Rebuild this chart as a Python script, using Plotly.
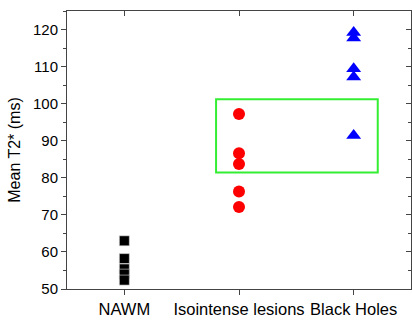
import plotly.graph_objects as go

categories = ["NAWM", "Isointense lesions", "Black Holes"]
nawm_values = [63.0, 58.2, 55.4, 54.0, 52.4]
iso_values = [97.2, 86.6, 83.7, 76.3, 72.1]
bh_values = [119.2, 117.7, 109.4, 107.2, 91.4]
y_ticks = [50, 60, 70, 80, 90, 100, 110, 120]
box_x = [0.80, 2.21]
box_y = [81.4, 101.2]

fig = go.Figure()
fig.add_trace(go.Scatter(x=[categories[0]] * len(nawm_values), y=nawm_values, mode="markers",
                         marker=dict(symbol="square", size=10, color="black",
                                     line=dict(color="#dddddd", width=0.6)), showlegend=False))
fig.add_trace(go.Scatter(x=[categories[1]] * len(iso_values), y=iso_values, mode="markers",
                         marker=dict(symbol="circle", size=12, color="#ff0000", line=dict(width=0)),
                         showlegend=False))
fig.add_trace(go.Scatter(x=[categories[2]] * len(bh_values), y=bh_values, mode="markers",
                         marker=dict(symbol="triangle-up", size=13, color="#0000ff", line=dict(width=0)),
                         showlegend=False))
# invisible trace to anchor mirror axes
fig.add_trace(go.Scatter(x=[categories[0]], y=[y_ticks[0]], xaxis="x2", yaxis="y2", mode="markers",
                         marker=dict(opacity=0), showlegend=False, hoverinfo="skip"))

fig.add_shape(type="rect", xref="x", yref="y", x0=box_x[0], x1=box_x[1], y0=box_y[0], y1=box_y[1],
              line=dict(color="#33ee33", width=2), fillcolor="rgba(0,0,0,0)")

axis_col = "#444444"
font_family = "Liberation Sans, Arial, sans-serif"

fig.update_layout(
    width=412, height=320,
    margin=dict(l=67, r=1, t=11, b=31, autoexpand=False),
    paper_bgcolor="white", plot_bgcolor="white",
    font=dict(family=font_family, color="black"),
    xaxis=dict(type="category", categoryorder="array", categoryarray=categories,
               range=[-0.5, 2.5], showgrid=False, zeroline=False, automargin=False,
               showline=True, linecolor=axis_col, linewidth=1,
               ticks="outside", ticklen=5, tickcolor=axis_col,
               tickfont=dict(size=16.5)),
    yaxis=dict(range=[50, 125], tickvals=y_ticks, showgrid=False, zeroline=False, automargin=False,
               showline=True, linecolor=axis_col, linewidth=1,
               ticks="outside", ticklen=5, tickcolor=axis_col,
               tickfont=dict(size=15),
               minor=dict(dtick=5, tick0=0, ticks="outside", ticklen=3, tickcolor=axis_col),
               title=dict(text="Mean T2* (ms)", font=dict(size=16), standoff=8)),
    xaxis2=dict(type="category", categoryorder="array", categoryarray=categories,
                range=[-0.5, 2.5], overlaying="x", side="top", showgrid=False, zeroline=False,
                automargin=False,
                showline=True, linecolor=axis_col, linewidth=1,
                ticks="inside", ticklen=5, tickcolor=axis_col, showticklabels=False),
    yaxis2=dict(range=[50, 125], tickvals=y_ticks, overlaying="y", side="right",
                showgrid=False, zeroline=False, automargin=False,
                showline=True, linecolor=axis_col, linewidth=1,
                ticks="inside", ticklen=5, tickcolor=axis_col, showticklabels=False,
                minor=dict(dtick=5, tick0=0, ticks="inside", ticklen=3, tickcolor=axis_col)),
)

fig.write_html("out.html", config={"displayModeBar": False},
               post_script="document.body.style.margin='0';document.body.style.overflow='hidden';")
